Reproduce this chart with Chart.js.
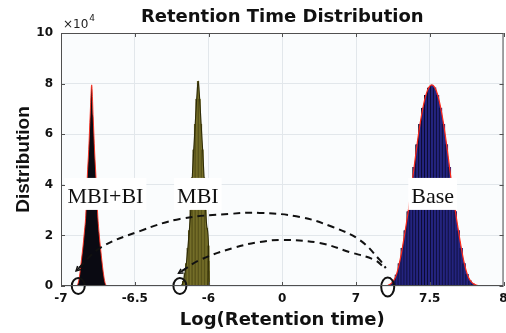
<!DOCTYPE html>
<html>
<head>
<meta charset="utf-8">
<script src="https://cdn.jsdelivr.net/npm/chart.js@4.4.1/dist/chart.umd.min.js"></script>
<style>
  html, body { margin: 0; padding: 0; background: #fff; }
  canvas { display: block; }
</style>
</head>
<body>
<canvas id="retentionChart" width="506" height="333"></canvas>
<script>
// broken x axis: tick labels and the log values they stand for
const tickLabels = ["-7", "-6.5", "-6", "0", "7", "7.5", "8"];
const tickValues = [-7, -6.5, -6, 0, 7, 7.5, 8];

// histogram bins (log retention time) and counts
const mbiBiStart = -6.882;
const mbiBiStep = 0.01;
const mbiBiCounts = [1500, 5000, 10000, 15000, 21000, 28000, 43000, 54000, 68000, 79500,
    67000, 53000, 42000, 29000, 21000, 15000, 9500, 4800, 1400];

const mbiStart = -6.180;
const mbiStep = 0.01;
const mbiCounts = [500, 2000, 5000, 9000, 15000, 22000, 30000, 43000, 54000, 64000, 74000,
    81000, 74000, 64000, 54000, 43000, 30000, 23000, 16000, 10000, 6000, 3000, 1200, 400];

const baseStart = 7.214;
const baseStep = 0.02;
const baseCounts = [200, 800, 2000, 4500, 9000, 15000, 22000, 29500, 38000, 47000, 56000,
    64000, 70500, 75500, 78500, 79500, 78500, 75500, 70500, 64000, 56000, 47000, 38000,
    29500, 22000, 15000, 9000, 4700, 2200, 1000, 400];

// dashed arcs between the peaks
const upperArcX = [-6.878, -6.736, -6.465, -6.194, -4.26, -1.82, 1.67, 4.80, 7.025, 7.161, 7.202];
const upperArcY = [7100, 15000, 21700, 26500, 28500, 28900, 27300, 23300, 18200, 10300, 7100];
const lowerArcX = [-6.18, -6.058, -4.01, -1.82, 0.06, 3.56, 6.41, 7.127, 7.188];
const lowerArcY = [5900, 10300, 15000, 17400, 18200, 17000, 13400, 10300, 7500];

// circled starting points on the axis
const markerX = [-6.883, -6.194, 7.215];

const peakLabels = ["MBI+BI", "MBI", "Base"];
const peakLabelX = [-6.699, -6.072, 7.520];
const peakLabelY = 36000;

// map a log value onto the broken axis (one unit per tick interval)
function pos(v) {
    for (let k = 0; k < tickValues.length - 1; k++) {
        if (v <= tickValues[k + 1] || k === tickValues.length - 2) {
            return k + (v - tickValues[k]) / (tickValues[k + 1] - tickValues[k]);
        }
    }
}

function bins(start, step, counts) {
    return counts.map((c, i) => ({ x: pos(start + i * step), y: c }));
}

function outline(start, step, counts) {
    const pts = bins(start, step, counts);
    pts.unshift({ x: pos(start - step), y: 0 });
    pts.push({ x: pos(start + counts.length * step), y: 0 });
    return pts;
}

function arc(xs, ys) {
    return xs.map((v, i) => ({ x: pos(v), y: ys[i] }));
}

function areaFill(data, color) {
    return {
        type: "line",
        data,
        borderWidth: 0,
        backgroundColor: color,
        fill: "origin",
        cubicInterpolationMode: "monotone",
        pointRadius: 0,
        order: 3
    };
}

function edge(data, color, width) {
    return {
        type: "line",
        data,
        borderColor: color,
        borderWidth: width,
        cubicInterpolationMode: "monotone",
        pointRadius: 0,
        fill: false,
        order: 1
    };
}

function dashedArc(data) {
    return {
        type: "line",
        data,
        borderColor: "#111",
        borderWidth: 2,
        borderDash: [7, 5],
        tension: 0.4,
        pointRadius: 0,
        fill: false,
        order: 0
    };
}

const overlayPlugin = {
    id: "overlay",
    beforeDraw(chart) {
        const { ctx, chartArea: a } = chart;
        ctx.save();
        ctx.fillStyle = "#fafcfd";
        ctx.fillRect(a.left, a.top, a.right - a.left, a.bottom - a.top);
        ctx.restore();
    },
    afterDatasetsDraw(chart) {
        const { ctx, chartArea: a } = chart;
        const xs = chart.scales.x;
        const ys = chart.scales.y;
        ctx.save();

        // arrow heads at the left ends of the arcs
        ctx.strokeStyle = "#111";
        ctx.lineWidth = 1.5;
        [arc(upperArcX, upperArcY), arc(lowerArcX, lowerArcY)].forEach(pts => {
            const x0 = xs.getPixelForValue(pts[0].x), y0 = ys.getPixelForValue(pts[0].y);
            const x1 = xs.getPixelForValue(pts[1].x), y1 = ys.getPixelForValue(pts[1].y);
            const ang = Math.atan2(y0 - y1, x0 - x1);
            ctx.beginPath();
            ctx.moveTo(x0 + 4 * Math.cos(ang), y0 + 4 * Math.sin(ang));
            ctx.lineTo(x0 - 4 * Math.cos(ang), y0 - 4 * Math.sin(ang));
            ctx.stroke();
            ctx.beginPath();
            const tx = x0 + 4 * Math.cos(ang), ty = y0 + 4 * Math.sin(ang);
            ctx.moveTo(tx - 5 * Math.cos(ang - 0.5), ty - 5 * Math.sin(ang - 0.5));
            ctx.lineTo(tx, ty);
            ctx.lineTo(tx - 5 * Math.cos(ang + 0.5), ty - 5 * Math.sin(ang + 0.5));
            ctx.stroke();
        });

        // peak labels on white boxes
        ctx.font = '22px "Liberation Serif"';
        ctx.textAlign = "center";
        ctx.textBaseline = "alphabetic";
        peakLabels.forEach((t, i) => {
            const cx = xs.getPixelForValue(pos(peakLabelX[i]));
            const cy = ys.getPixelForValue(peakLabelY);
            const w = ctx.measureText(t).width;
            ctx.fillStyle = "#fff";
            ctx.fillRect(cx - w / 2 - 3, cy - 17, w + 6, 32);
            ctx.fillStyle = "#111";
            ctx.fillText(t, cx, cy + 8);
        });

        // circles on the axis
        ctx.strokeStyle = "#111";
        ctx.lineWidth = 2;
        markerX.forEach((m, i) => {
            const cx = xs.getPixelForValue(pos(m));
            const cy = ys.getPixelForValue(0);
            ctx.beginPath();
            ctx.ellipse(cx, cy + (i === 2 ? 1 : 0), 6.5, i === 2 ? 9.5 : 8, 0, 0, Math.PI * 2);
            ctx.stroke();
        });

        // axes box with inward ticks
        ctx.strokeStyle = "#505050";
        ctx.lineWidth = 1;
        ctx.strokeRect(a.left + 0.5, a.top + 0.5, a.right - a.left - 1, a.bottom - a.top - 1);
        ctx.beginPath();
        xs.ticks.forEach(t => {
            const px = Math.round(xs.getPixelForValue(t.value)) + 0.5;
            ctx.moveTo(px, a.top); ctx.lineTo(px, a.top + 4);
            ctx.moveTo(px, a.bottom); ctx.lineTo(px, a.bottom - 4);
        });
        ys.ticks.forEach(t => {
            const py = Math.round(ys.getPixelForValue(t.value)) + 0.5;
            ctx.moveTo(a.left, py); ctx.lineTo(a.left + 4, py);
            ctx.moveTo(a.right, py); ctx.lineTo(a.right - 4, py);
        });
        ctx.stroke();

        // exponent label
        ctx.fillStyle = "#222";
        ctx.textAlign = "left";
        ctx.font = '12px "DejaVu Sans"';
        ctx.fillText("\u00d710", a.left + 2, 27.5);
        const w10 = ctx.measureText("\u00d710").width;
        ctx.font = '9px "DejaVu Sans"';
        ctx.fillText("4", a.left + 2 + w10 + 1, 21);

        ctx.restore();
    }
};

const mbiBiLine = outline(mbiBiStart, mbiBiStep, mbiBiCounts);
const mbiLine = outline(mbiStart, mbiStep, mbiCounts);
const baseLine = outline(baseStart, baseStep, baseCounts);

const ctx = document.getElementById("retentionChart");

new Chart(ctx, {
    type: "line",
    data: {
        datasets: [
            dashedArc(arc(upperArcX, upperArcY)),
            dashedArc(arc(lowerArcX, lowerArcY)),
            edge(mbiBiLine, "#ff2a1a", 0.9),
            edge(mbiLine, "#2e2b06", 1.1),
            edge(baseLine, "#ff2a1a", 1.2),
            areaFill(mbiBiLine, "#0a0a12"),
            areaFill(mbiLine, "#726c26"),
            areaFill(baseLine, "#24247f"),
            {
                type: "bar",
                data: bins(mbiStart, mbiStep, mbiCounts),
                backgroundColor: "#77712a",
                borderColor: "#3a360c",
                borderWidth: { left: 0.5, right: 0, top: 0, bottom: 0 },
                borderSkipped: false,
                barThickness: 2.2,
                stack: "h",
                order: 2
            },
            {
                type: "bar",
                data: bins(baseStart, baseStep, baseCounts),
                backgroundColor: "#24247f",
                borderColor: "#0b0b30",
                borderWidth: { left: 1, right: 0, top: 0, bottom: 0 },
                borderSkipped: false,
                barThickness: 3.2,
                stack: "h",
                order: 2
            }
        ]
    },
    options: {
        responsive: false,
        devicePixelRatio: 1,
        animation: false,
        layout: {
            padding: { left: 0, right: 2.5, top: 0, bottom: 0 }
        },
        plugins: {
            legend: { display: false },
            tooltip: { enabled: false },
            title: {
                display: true,
                text: "Retention Time Distribution",
                fullSize: false,
                color: "#111",
                font: { family: "DejaVu Sans", size: 18, weight: "bold", lineHeight: 1.2 },
                padding: { top: 7, bottom: 4.4 }
            }
        },
        scales: {
            x: {
                type: "linear",
                min: 0,
                max: 6,
                offset: false,
                grid: { color: "#e2e7eb", drawTicks: false, offset: false },
                border: { display: false },
                ticks: {
                    stepSize: 1,
                    autoSkip: false,
                    maxRotation: 0,
                    padding: 6,
                    color: "#111",
                    font: { family: "DejaVu Sans", size: 12, weight: "bold" },
                    callback: v => tickLabels[v]
                },
                title: {
                    display: true,
                    text: "Log(Retention time)",
                    color: "#111",
                    font: { family: "DejaVu Sans", size: 18, weight: "bold", lineHeight: 1.2 },
                    padding: { top: 0, bottom: 1.4 }
                },
                afterFit: scale => {
                    scale.height = 47;
                    scale.paddingLeft = 0;
                    scale.paddingRight = 0;
                }
            },
            y: {
                min: 0,
                max: 100000,
                stacked: false,
                grid: { color: "#e2e7eb", drawTicks: false },
                border: { display: false },
                ticks: {
                    stepSize: 20000,
                    padding: 8,
                    color: "#111",
                    font: { family: "DejaVu Sans", size: 12, weight: "bold" },
                    callback: v => v / 10000
                },
                title: {
                    display: true,
                    text: "Distribution",
                    color: "#111",
                    font: { family: "Liberation Sans", size: 19, weight: "bold", lineHeight: 1.2 },
                    padding: { top: 12, bottom: 0 }
                },
                afterFit: scale => {
                    scale.width = 61;
                    scale.paddingTop = 0;
                    scale.paddingBottom = 0;
                }
            }
        }
    },
    plugins: [overlayPlugin]
});
</script>
</body>
</html>
